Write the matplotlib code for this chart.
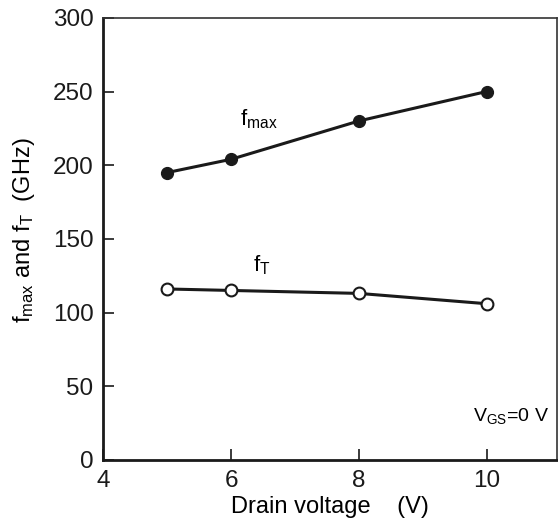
import matplotlib.pyplot as plt

plt.rcParams['font.family'] = ['Liberation Sans', 'DejaVu Sans']
plt.rcParams['mathtext.fontset'] = 'custom'
plt.rcParams['mathtext.rm'] = 'Liberation Sans'
plt.rcParams['mathtext.it'] = 'Liberation Sans'

# drain voltage (V) and cut-off frequencies (GHz)
drain_v = [5, 6, 8, 10]
f_max = [195, 204, 230, 250]
f_t = [116, 115, 113, 106]

fig = plt.figure(figsize=(5.58, 5.25), dpi=100)
ax = fig.add_axes([0.185, 0.124, 0.813, 0.842])

ax.plot(drain_v, f_max, '-o', color='#1a1a1a', lw=2.2, ms=8.5,
        mfc='#1a1a1a', mec='#1a1a1a')
ax.plot(drain_v, f_t, '-o', color='#1a1a1a', lw=2.2, ms=8.5,
        mfc='white', mec='#1a1a1a', mew=1.5)

ax.text(6.14, 231, r'f$_{\mathrm{max}}$', fontsize=16, va='center', ha='left')
ax.text(6.34, 132, r'f$_{\mathrm{T}}$', fontsize=16, va='center', ha='left')
ax.text(10.98, 30, r'V$_{\mathrm{GS}}$=0 V', fontsize=14, va='center', ha='right')

ax.set_xlim(4, 11.1)
ax.set_ylim(0, 300)
ax.set_xticks([4, 6, 8, 10])
ax.set_yticks([0, 50, 100, 150, 200, 250, 300])
ax.tick_params(direction='in', length=8, width=1.2, labelsize=17.5, pad=7,
               top=False, right=False, colors='#1a1a1a')

for side in ['left', 'bottom']:
    ax.spines[side].set_linewidth(2)
    ax.spines[side].set_color('#1a1a1a')
for side in ['top', 'right']:
    ax.spines[side].set_linewidth(1.2)
    ax.spines[side].set_color('#333333')

ax.set_xlabel('Drain voltage    (V)', fontsize=17, labelpad=3)
ax.set_ylabel(r'f$_{\mathrm{max}}$ and f$_{\mathrm{T}}$  (GHz)', fontsize=17)
ax.yaxis.set_label_coords(-0.145, 0.52)

fig.savefig('out.png', dpi=100)
